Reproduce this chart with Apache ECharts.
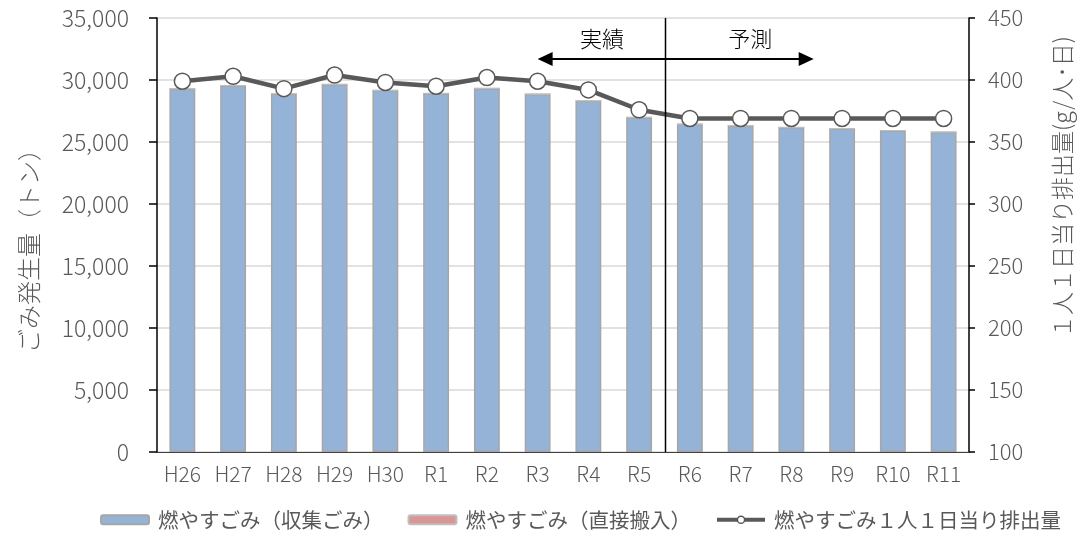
<!DOCTYPE html>
<html>
<head>
<meta charset="utf-8">
<script src="https://cdn.jsdelivr.net/npm/echarts@6/dist/echarts.min.js"></script>
<style>
  html, body { margin: 0; padding: 0; background: #fff; }
  #main { width: 1082px; height: 537px; }
</style>
</head>
<body>
<div id="main"></div>
<script>
// 年度
const years = ['H26', 'H27', 'H28', 'H29', 'H30', 'R1', 'R2', 'R3', 'R4', 'R5',
               'R6', 'R7', 'R8', 'R9', 'R10', 'R11'];
// 燃やすごみ（収集ごみ）トン
const collected = [29300, 29550, 28900, 29650, 29170, 28920, 29330, 28870, 28330, 26990,
                   26450, 26320, 26180, 26080, 25920, 25810];
// 燃やすごみ（直接搬入）トン
const direct = [0, 0, 0, 0, 0, 0, 0, 0, 0, 0, 0, 0, 0, 0, 0, 0];
// 1人1日当り排出量 g/人・日
const perCapita = [399, 403, 393, 404, 398, 395, 402, 399, 392, 376,
                   369, 369, 369, 369, 369, 369];
// 実績／予測の境目（この年度の手前で区切る）
const forecastStart = 'R6';

const FONT = '"Noto Sans CJK JP", "Noto Sans", sans-serif';
const TXT = '#595959';

const chart = echarts.init(document.getElementById('main'));

chart.setOption({
  animation: false,
  textStyle: { fontFamily: FONT },
  grid: { left: 157, right: 112, top: 18, bottom: 85 },
  legend: {
    bottom: 2,
    left: 95,
    itemWidth: 48,
    itemHeight: 9,
    itemGap: 24,
    textStyle: { fontFamily: FONT, fontSize: 20.5, color: TXT, padding: [0, 0, 0, 4] },
    data: [
      '燃やすごみ（収集ごみ）',
      '燃やすごみ（直接搬入）',
      { name: '燃やすごみ１人１日当り排出量', lineStyle: { width: 4, color: '#595959' },
        itemStyle: { color: '#fff', borderColor: '#595959', borderWidth: 1.5 } }
    ]
  },
  xAxis: {
    type: 'category',
    data: years,
    axisLine: { lineStyle: { color: '#404040', width: 1 } },
    axisTick: { show: false },
    axisLabel: { interval: 0, color: TXT, fontSize: 21, margin: 12, fontFamily: FONT, fontWeight: 300 }
  },
  yAxis: [
    {
      type: 'value', min: 0, max: 35000, interval: 5000,
      name: 'ごみ発生量（トン）',
      nameLocation: 'middle', nameRotate: 90, nameGap: 116,
      nameTextStyle: { color: TXT, fontSize: 24, fontFamily: FONT, fontWeight: 300, padding: [0, 20, 0, 0] },
      axisLine: { show: true, lineStyle: { color: '#000', width: 1.5 } },
      axisTick: { show: true, length: 8, lineStyle: { color: '#000', width: 1.5 } },
      axisLabel: {
        color: TXT, fontSize: 23, margin: 28, fontFamily: FONT, fontWeight: 300,
        formatter: v => v.toLocaleString('en-US')
      },
      splitLine: { lineStyle: { color: '#d9d9d9', width: 1.5 } }
    },
    {
      type: 'value', min: 100, max: 450, interval: 50,
      name: '１人１日当り排出量(g/人･日)',
      nameLocation: 'middle', nameRotate: 90, nameGap: 82,
      nameTextStyle: { color: TXT, fontSize: 23, fontFamily: FONT, fontWeight: 300, padding: [0, 0, 0, 96] },
      axisLine: { show: true, lineStyle: { color: '#000', width: 1.5 } },
      axisTick: { show: true, length: 6, lineStyle: { color: '#000', width: 1.5 } },
      axisLabel: { color: TXT, fontSize: 22, margin: 19, fontFamily: FONT, fontWeight: 300 },
      splitLine: { show: false }
    }
  ],
  series: [
    {
      name: '燃やすごみ（収集ごみ）',
      type: 'bar', stack: 'gomi', barWidth: '51%',
      data: collected,
      itemStyle: { color: '#95b3d7', borderColor: '#a6a6a6', borderWidth: 1.5 }
    },
    {
      name: '燃やすごみ（直接搬入）',
      type: 'bar', stack: 'gomi', barWidth: '51%',
      data: direct,
      itemStyle: { color: '#d99694', borderColor: '#bfbfbf', borderWidth: 1 }
    },
    {
      name: '燃やすごみ１人１日当り排出量',
      type: 'line', yAxisIndex: 1,
      data: perCapita,
      symbol: 'circle', symbolSize: 16,
      lineStyle: { color: '#595959', width: 4.5 },
      itemStyle: { color: '#fff', borderColor: '#595959', borderWidth: 1.5 },
      z: 5
    }
  ]
});

// 実績／予測の区切り線と矢印
function drawDivider() {
  const i = years.indexOf(forecastStart);
  const xPrev = chart.convertToPixel({ xAxisIndex: 0 }, years[i - 1]);
  const xNext = chart.convertToPixel({ xAxisIndex: 0 }, years[i]);
  const x = (xPrev + xNext) / 2 + 1;
  const yTop = chart.convertToPixel({ yAxisIndex: 0 }, 35000);
  const yBot = chart.convertToPixel({ yAxisIndex: 0 }, 0);
  const step = xNext - xPrev;
  const ay = yTop + 41;
  const left = x - step * 2.52;
  const right = x + step * 2.92;
  const head = 15, hw = 7;
  chart.setOption({
    graphic: [
      { type: 'line', shape: { x1: x, y1: yTop, x2: x, y2: yBot },
        style: { stroke: '#000', lineWidth: 1.5 }, z: 10 },
      { type: 'line', shape: { x1: left + head - 1, y1: ay, x2: right - head + 1, y2: ay },
        style: { stroke: '#000', lineWidth: 2 }, z: 10 },
      { type: 'polygon', shape: { points: [[left, ay], [left + head, ay - hw], [left + head, ay + hw]] },
        style: { fill: '#000' }, z: 10 },
      { type: 'polygon', shape: { points: [[right, ay], [right - head, ay - hw], [right - head, ay + hw]] },
        style: { fill: '#000' }, z: 10 },
      { type: 'text', x: x - step * 1.25, y: ay - 20,
        style: { text: '実績', fill: '#000', font: '300 22px ' + FONT, align: 'center', verticalAlign: 'middle' }, z: 10 },
      { type: 'text', x: x + step * 1.67, y: ay - 20,
        style: { text: '予測', fill: '#000', font: '300 22px ' + FONT, align: 'center', verticalAlign: 'middle' }, z: 10 }
    ]
  });
}
drawDivider();
</script>
</body>
</html>
